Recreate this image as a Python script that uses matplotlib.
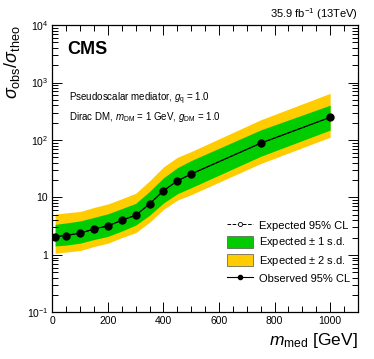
import matplotlib
matplotlib.use('Agg')
import matplotlib.pyplot as plt
import numpy as np
from matplotlib.ticker import FixedLocator, LogLocator, NullFormatter, MultipleLocator
from matplotlib.patches import Patch
from matplotlib.lines import Line2D

plt.rcParams['font.family'] = ['Liberation Sans', 'DejaVu Sans']
plt.rcParams['mathtext.fontset'] = 'custom'
plt.rcParams['mathtext.rm'] = 'Liberation Sans'
plt.rcParams['mathtext.it'] = 'Liberation Sans:italic'
plt.rcParams['mathtext.bf'] = 'Liberation Sans:bold'

# mediator mass points [GeV]
m_med = [10, 50, 100, 150, 200, 250, 300, 350, 400, 450, 500, 750, 1000]
observed = [2.08, 2.17, 2.38, 2.83, 3.2, 4.0, 4.9, 7.7, 13.1, 19.4, 25.6, 88, 248]
expected = [2.1, 2.2, 2.4, 2.8, 3.2, 4.0, 4.9, 7.7, 13.1, 19.4, 25.6, 88, 248]
exp_p1 = [3.4, 3.6, 3.9, 4.5, 5.2, 6.4, 7.9, 12.8, 22, 33, 44, 150, 405]
exp_m1 = [1.43, 1.48, 1.6, 1.85, 2.1, 2.6, 3.3, 4.9, 8.0, 11.6, 14.8, 52, 149]
exp_p2 = [5.1, 5.4, 5.7, 6.7, 7.7, 9.5, 11.8, 19.5, 34, 50, 63, 225, 650]
exp_m2 = [1.07, 1.12, 1.19, 1.4, 1.6, 2.0, 2.44, 3.7, 6.2, 9.0, 11.2, 39, 112]

ytick_vals = [0.1, 1, 10, 100, 1000, 10000]
ytick_labels = ['$10^{-1}$', '1', '10', '$10^{2}$', '$10^{3}$', '$10^{4}$']

fig = plt.figure(figsize=(3.74, 3.59), dpi=100)
ax = fig.add_axes([0.140, 0.130, 0.817, 0.800])

ax.fill_between(m_med, exp_m2, exp_p2, color='#ffcc00', lw=0)
ax.fill_between(m_med, exp_m1, exp_p1, color='#00cc00', lw=0)
ax.plot(m_med, expected, ls='--', color='black', lw=0.7, marker='o', ms=3,
        mfc='white', mec='black', mew=0.6)
ax.plot(m_med, observed, ls='-', color='black', lw=0.8, marker='o', ms=5)

ax.set_yscale('log')
ax.set_xlim(0, 1100)
ax.set_ylim(0.1, 1e4)
ax.yaxis.set_major_locator(FixedLocator(ytick_vals))
ax.set_yticklabels(ytick_labels)
ax.yaxis.set_minor_locator(LogLocator(base=10, subs=np.arange(2, 10)))
ax.yaxis.set_minor_formatter(NullFormatter())
ax.xaxis.set_major_locator(MultipleLocator(200))
ax.xaxis.set_minor_locator(MultipleLocator(50))

ax.tick_params(which='both', direction='in', top=True, right=True, labelsize=7.5,
               width=0.7, pad=3)
ax.tick_params(which='major', length=7)
ax.tick_params(which='minor', length=4)
for s in ax.spines.values():
    s.set_linewidth(0.9)

ax.set_ylabel(r'$\sigma_{\rm obs}/\sigma_{\rm theo}$', fontsize=13, loc='top', labelpad=3)
ax.set_xlabel(r'$m_{\rm med}$ [GeV]', fontsize=12.5, loc='right', labelpad=3)

ax.text(0.05, 0.945, 'CMS', transform=ax.transAxes, fontsize=13, fontweight='bold',
        va='top', ha='left')
ax.text(1.0, 1.01, r'35.9 fb$^{-1}$ (13TeV)', transform=ax.transAxes, fontsize=8,
        ha='right', va='bottom')
ax.text(0.055, 0.745, r'Pseudoscalar mediator, $g_{\rm q}$ = 1.0', transform=ax.transAxes,
        fontsize=7, ha='left', va='center')
ax.text(0.055, 0.680, r'Dirac DM, $m_{\rm DM}$ = 1 GeV, $g_{\rm DM}$ = 1.0',
        transform=ax.transAxes, fontsize=7, ha='left', va='center')

handles = [
    Line2D([], [], ls='--', color='black', lw=0.7, marker='o', ms=3, mfc='white', mew=0.6),
    Patch(facecolor='#00cc00', edgecolor='#555555', lw=0.5),
    Patch(facecolor='#ffcc00', edgecolor='#555555', lw=0.5),
    Line2D([], [], ls='-', color='black', lw=0.8, marker='o', ms=3),
]
labels = ['Expected 95% CL', r'Expected $\pm$ 1 s.d.', r'Expected $\pm$ 2 s.d.',
          'Observed 95% CL']
ax.legend(handles, labels, loc='lower right', bbox_to_anchor=(1.0, 0.07), frameon=False,
          fontsize=8, handlelength=2.4, handleheight=1.3, labelspacing=0.4,
          handletextpad=0.5, borderaxespad=0.3)

fig.savefig('out.png', dpi=100)
